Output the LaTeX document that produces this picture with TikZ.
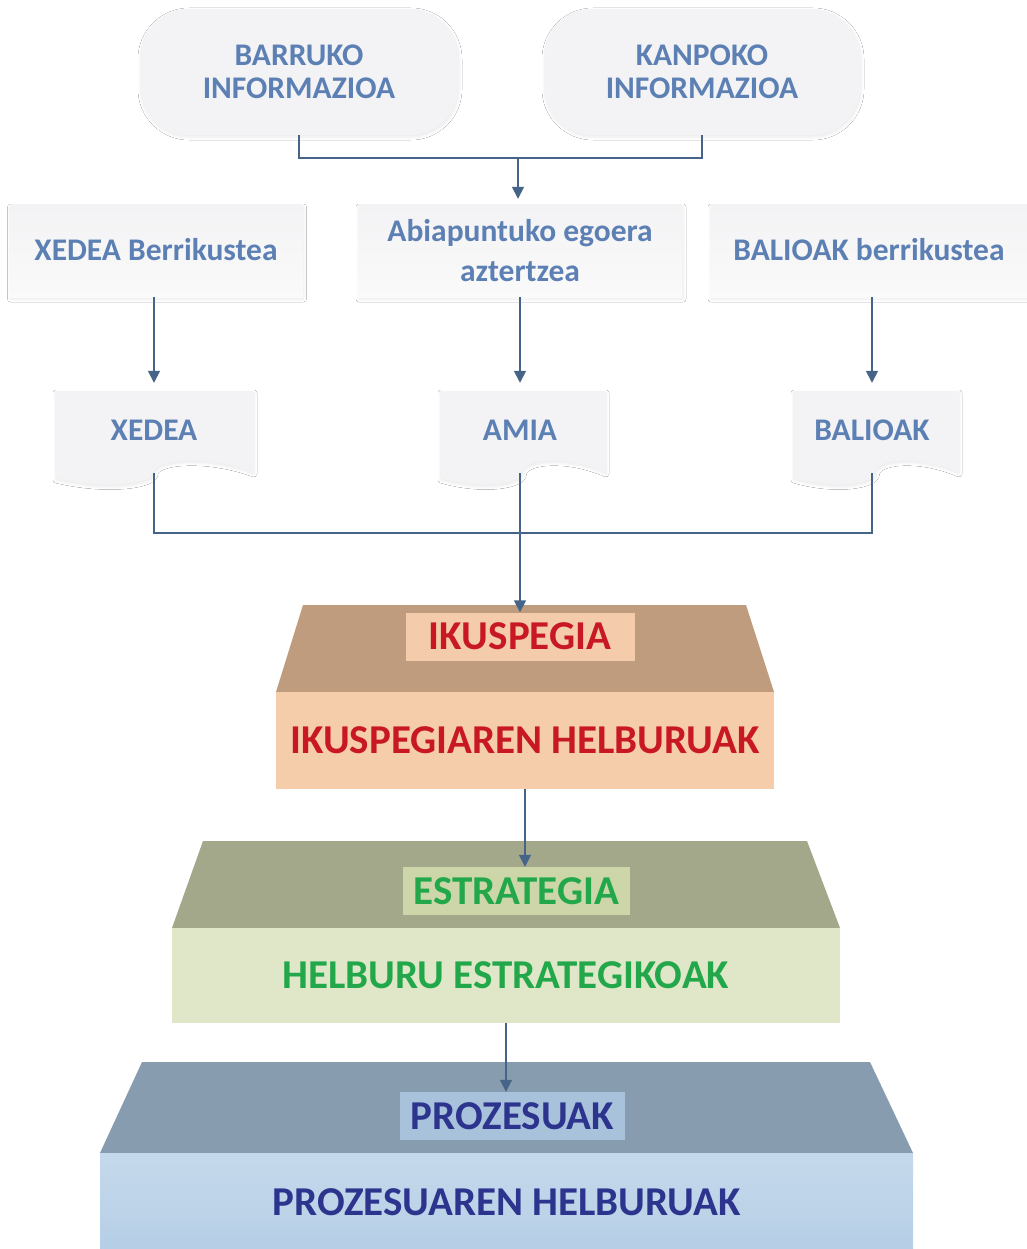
\documentclass[tikz,border=0pt]{standalone}
\usepackage{fontspec}
\setmainfont{Carlito}
\usetikzlibrary{arrows.meta,shadows.blur}
\definecolor{txtblue}{RGB}{92,128,180}
\definecolor{arrowc}{RGB}{70,100,136}
\definecolor{boxgray}{RGB}{243,243,245}
\definecolor{ikusTop}{RGB}{192,156,126}
\definecolor{ikusLab}{RGB}{244,204,172}
\definecolor{ikusFront}{RGB}{246,205,170}
\definecolor{ikusTxt}{RGB}{200,24,36}
\definecolor{estTop}{RGB}{163,168,138}
\definecolor{estLab}{RGB}{204,214,168}
\definecolor{estFront}{RGB}{224,231,200}
\definecolor{estTxt}{RGB}{34,168,74}
\definecolor{proTop}{RGB}{136,156,176}
\definecolor{proLab}{RGB}{168,194,220}
\definecolor{proFront}{RGB}{182,207,230}
\definecolor{proTxt}{RGB}{44,52,142}
\tikzset{
  small/.style={font=\fontsize{31.5}{34}\selectfont\bfseries, text=txtblue, align=center},
  big/.style={font=\fontsize{41}{44}\selectfont\bfseries},
  softshadow/.style={blur shadow={shadow blur steps=6, shadow blur radius=3pt, shadow xshift=1pt, shadow yshift=-2pt, shadow opacity=9}},
  pill/.style={small, rounded corners=48pt, fill=boxgray, softshadow},
  rbox/.style={small, top color=boxgray, bottom color=white!96!gray, softshadow},
  docnode/.style={small, minimum height=86pt},
  plain/.style={draw=arrowc, line width=1.6pt},
  arr/.style={plain, -{Triangle[length=12pt,width=12pt]}},
  lab/.style={big, inner sep=0pt, minimum height=48pt},
  front/.style={big, inner sep=0pt},
}
\begin{document}
\begin{tikzpicture}[x=1pt,y=-1pt]
\useasboundingbox (0,0) rectangle (1027,1249);
\fill[white] (0,0) rectangle (1027,1249);

% top pills
\node[pill, minimum width=318pt, minimum height=126pt] (barr) at (299,72) {BARRUKO\\[-1pt]INFORMAZIOA};
\node[pill, minimum width=316pt, minimum height=126pt] (kanp) at (702,72) {KANPOKO\\[-1pt]INFORMAZIOA};
\coordinate (j1) at (518,158);

% middle row
\node[rbox, minimum width=293pt, minimum height=92pt] (xberr) at (156,251) {\raisebox{4pt}{XEDEA Berrikustea}};
\node[rbox, minimum width=324pt, minimum height=92pt] (abia) at (520,251) {Abiapuntuko egoera\\[6pt]aztertzea};
\node[rbox, minimum width=318pt, minimum height=92pt] (bberr) at (869,251) {\raisebox{4pt}{BALIOAK berrikustea}};

% documents
\def\docshape#1#2#3#4{% x0 x1 y0 y1
  \fill[boxgray, softshadow]
   (#1,#3) -- (#2,#3) -- (#2,#4-8)
   .. controls ({#2-0.25*(#2-#1)},{#4-26}) and ({#1+0.5*(#2-#1)},{#4-20}) .. ({#1+0.5*(#2-#1)},{#4-8})
   .. controls ({#1+0.5*(#2-#1)},{#4+4}) and ({#1+0.25*(#2-#1)},{#4+10}) .. (#1,#4-2) -- cycle;}
\docshape{55}{253}{391}{480}
\docshape{440}{605}{391}{480}
\docshape{793}{958}{391}{480}
\node[docnode, minimum width=198pt] (xdoc) at (154,430) {XEDEA};
\node[docnode, minimum width=165pt] (amia) at (520,430) {AMIA};
\node[docnode, minimum width=165pt] (bdoc) at (872,430) {BALIOAK};
\coordinate (j2) at (520,533);

% IKUSPEGIA block
\fill[ikusTop] (303,605) -- (746,605) -- (774,692) -- (276,692) -- cycle;
\node[front, fill=ikusFront, minimum width=498pt, minimum height=97pt, text=ikusTxt] (ikush) at (525,740.5) {IKUSPEGIAREN HELBURUAK};
\node[lab, fill=ikusLab, minimum width=229pt, text=ikusTxt] (ikus) at (520,636.5) {IKUSPEGIA};

% ESTRATEGIA block
\fill[estTop] (203,841) -- (807,841) -- (840,928) -- (172,928) -- cycle;
\node[front, fill=estFront, minimum width=668pt, minimum height=95pt, text=estTxt] (esth) at (506,975.5) {HELBURU ESTRATEGIKOAK};
\node[lab, fill=estLab, minimum width=227pt, text=estTxt] (est) at (516.5,891) {ESTRATEGIA};

% PROZESUAK block
\fill[proTop] (142,1062) -- (870,1062) -- (913,1153) -- (100,1153) -- cycle;
\node[front, top color=proFront!80!white, bottom color=proFront, minimum width=813pt, minimum height=98pt, text=proTxt] (proh) at (506.5,1202) {PROZESUAREN HELBURUAK};
\node[lab, fill=proLab, minimum width=225pt, text=proTxt] (pro) at (512.5,1116) {PROZESUAK};

% connectors
\draw[plain] (barr.south) |- (j1) -| (kanp.south);
\draw[arr, shorten >=6pt] (j1) -- (j1 |- abia.north);
\draw[arr, shorten >=4pt] (xberr.south -| xdoc.north) -- (xdoc.north);
\draw[arr, shorten >=4pt] (abia.south -| amia.north) -- (amia.north);
\draw[arr, shorten >=4pt] (bberr.south -| bdoc.north) -- (bdoc.north);
\draw[plain] (xdoc.south) |- (j2) -| (bdoc.south);
\draw[arr] (amia.south) -- (ikus.north);
\draw[arr] (ikush.south) -- (ikush.south |- est.north);
\draw[arr] (esth.south) -- (esth.south |- pro.north);
\end{tikzpicture}
\end{document}
